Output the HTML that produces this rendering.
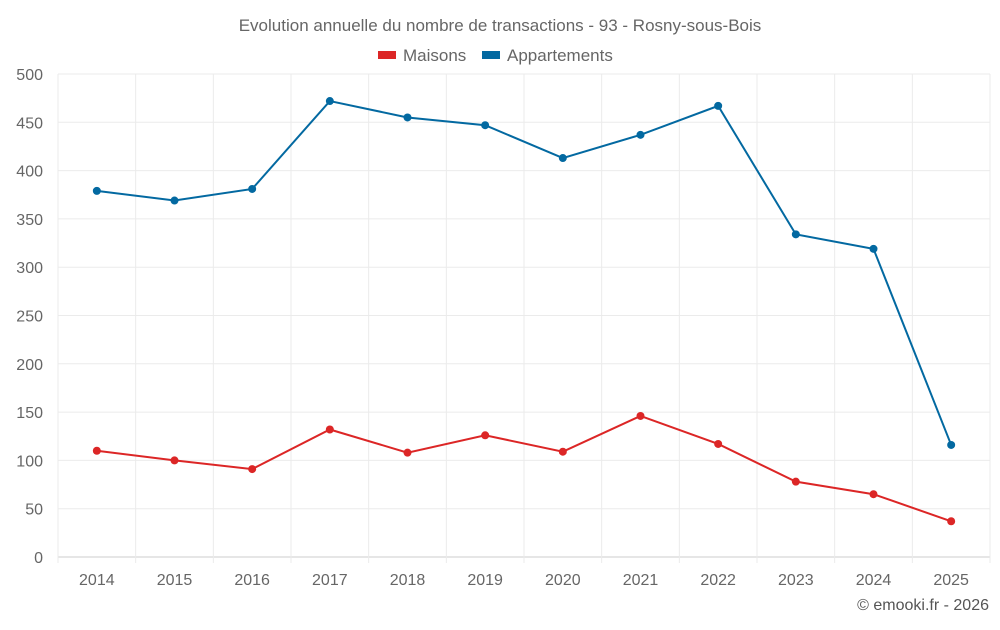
<!DOCTYPE html>
<html><head><meta charset="utf-8"><style>
body{margin:0;background:#fff;font-family:"Liberation Sans",sans-serif;}
svg text{font-family:"Liberation Sans",sans-serif;}
</style></head><body>
<svg id="chart" width="1000" height="625">
<text x="500" y="31" text-anchor="middle" font-size="17" fill="#666">Evolution annuelle du nombre de transactions - 93 - Rosny-sous-Bois</text>
<g>
<g><rect x="378" y="51" width="18" height="8" fill="#dc2626"/><text x="403" y="61" font-size="17" fill="#666">Maisons</text></g>
<g><rect x="482" y="51" width="18" height="8" fill="#0369a1"/><text x="507" y="61" font-size="17" fill="#666">Appartements</text></g>
</g>
<g id="grid"></g><g id="axes"></g><g id="series"></g>
<text x="989" y="610" text-anchor="end" font-size="16" fill="#555">© emooki.fr - 2026</text>
</svg>
<script>
const years=["2014","2015","2016","2017","2018","2019","2020","2021","2022","2023","2024","2025"];
const maisons=[110,100,91,132,108,126,109,146,117,78,65,37];
const appartements=[379,369,381,472,455,447,413,437,467,334,319,116];
const yTicks=[0,50,100,150,200,250,300,350,400,450,500];
const L=58,R=990,T=74,B=557,yMax=500;
const bw=(R-L)/years.length;
const xs=i=>L+bw*(i+0.5);
const ys=v=>B-(v/yMax)*(B-T);
const NS="http://www.w3.org/2000/svg";
function mk(tag,attrs,parent){const e=document.createElementNS(NS,tag);for(const k in attrs)e.setAttribute(k,attrs[k]);parent.appendChild(e);return e;}
const grid=document.getElementById('grid'),axes=document.getElementById('axes'),ser=document.getElementById('series');
yTicks.forEach(t=>{
 const l=mk('line',{x1:L,x2:R,y1:ys(t),y2:ys(t),stroke:t===0?'#ccc':'#ebebeb','stroke-width':1},grid);
 
 
 const tx=mk('text',{x:L-15,y:ys(t)+6,'text-anchor':'end','font-size':16,fill:'#666'},axes);
 tx.textContent=t;
 
 
});
for(let i=0;i<=years.length;i++){
 const l=mk('line',{x1:L+bw*i,x2:L+bw*i,y1:T,y2:B+6,stroke:'#ebebeb','stroke-width':1},grid);
 
 
}
years.forEach((y,i)=>{
 const tx=mk('text',{x:xs(i),y:585,'text-anchor':'middle','font-size':16,fill:'#666'},axes);
 tx.textContent=y;
 
 
});
function draw(vals,color,name){
 const p=mk('polyline',{points:vals.map((v,i)=>xs(i)+','+ys(v)).join(' '),fill:'none',stroke:color,'stroke-width':2},ser);
 
 
 vals.forEach((v,i)=>{
  const c=mk('circle',{cx:xs(i),cy:ys(v),r:4,fill:color},ser);
  
  
 });
}
draw(appartements,'#0369a1','appartements');
draw(maisons,'#dc2626','maisons');
</script>
</body></html>
